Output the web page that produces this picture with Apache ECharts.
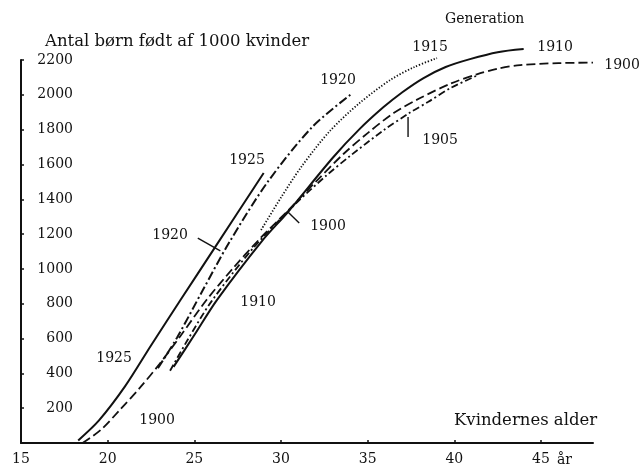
<!DOCTYPE html>
<html>
<head>
<meta charset="utf-8">
<script src="https://cdn.jsdelivr.net/npm/echarts@6/dist/echarts.min.js"></script>
<style>html,body{margin:0;padding:0;background:#fff}#c{width:640px;height:471px}</style>
</head>
<body>
<div id="c"></div>
<script>
// Data: [age, children per 1000 women]
const gen1925 = [[18.3,15],[19.5,130],[21.0,325],[22.5,560],[24.2,821],[26.2,1125],[29.0,1551]];
const gen1920 = [[22.9,430],[24.0,605],[25.5,880],[27.0,1150],[29.2,1495],[31.8,1815],[34.0,2000]];
const gen1915 = [[28.85,1223],[30.0,1410],[31.2,1590],[32.8,1790],[34.5,1950],[36.3,2085],[37.7,2160],[39.0,2211]];
const gen1910 = [[23.8,437],[25.0,620],[26.3,821],[28.9,1160],[30.4,1327],[33.0,1640],[34.5,1800],[35.9,1928],[37.0,2015],[38.2,2095],[39.5,2160],[40.9,2205],[42.5,2245],[44.0,2263]];
const gen1905 = [[23.6,415],[24.6,590],[26.0,815],[28.4,1120],[30.8,1370],[32.6,1535],[34.0,1650],[35.9,1795],[37.4,1895],[38.5,1960],[39.8,2040],[41.3,2110]];
const gen1900 = [[18.55,0],[19.6,75],[20.7,190],[21.9,322],[23.0,455],[24.2,615],[25.7,821],[27.2,1000],[28.7,1165],[30.4,1335],[32.0,1500],[33.6,1660],[35.0,1780],[36.5,1895],[38.0,1980],[39.8,2065],[41.3,2118],[42.5,2150],[43.8,2171],[46.0,2182],[48.0,2185]];

// Pointer strokes from labels to curves
const pointer1920 = [[25.2,1177],[26.5,1103]];
const pointer1900 = [[30.4,1327],[31.05,1264]];
const pointer1905 = [[37.33,1873],[37.33,1758]];

// Curve labels: [age, value, text]
const curveLabels = [
  [20.37,488,'1925'],[22.85,132,'1900'],[28.68,810,'1910'],[23.6,1195,'1920'],
  [28.04,1626,'1925'],[32.71,1246,'1900'],[33.29,2085,'1920'],[38.6,2275,'1915'],
  [45.81,2275,'1910'],[49.68,2171,'1900'],[39.18,1740,'1905']
];

const xTicks = { min: 15, max: 48, interval: 5 };
const yTicks = { min: 0, max: 2200, interval: 200 };

const FONT = 'DejaVu Serif';
const INK = '#111';

function curve(name, data, type, width) {
  return { name, type: 'line', data, smooth: 0.3, showSymbol: false, silent: true, clip: false,
    lineStyle: { color: INK, width: width || 1.8, type } };
}
function pointer(data) {
  return { type: 'line', data, showSymbol: false, silent: true, clip: false, lineStyle: { color: INK, width: 1.4 } };
}

const chart = echarts.init(document.getElementById('c'), null, { renderer: 'canvas' });
chart.setOption({
  animation: false,
  backgroundColor: '#fff',
  title: [
    { text: 'Antal børn født af 1000 kvinder', left: 40, top: 28,
      textStyle: { fontFamily: FONT, fontSize: 16.5, fontWeight: 'normal', color: INK } },
    { text: 'Generation', left: 440, top: 7,
      textStyle: { fontFamily: FONT, fontSize: 14, fontWeight: 'normal', color: INK } },
    { text: 'Kvindernes alder', left: 449, top: 407,
      textStyle: { fontFamily: FONT, fontSize: 16.5, fontWeight: 'normal', color: INK } }
  ],
  grid: { left: 21, right: 47, top: 60, bottom: 28, containLabel: false },
  xAxis: {
    type: 'value', min: xTicks.min, max: xTicks.max, interval: xTicks.interval,
    name: 'år', nameLocation: 'end', nameGap: -36,
    nameTextStyle: { fontFamily: FONT, fontSize: 14, color: INK, verticalAlign: 'top', padding: [10, 0, 0, 0] },
    axisLine: { show: true, lineStyle: { color: INK, width: 2 } },
    axisTick: { show: true, inside: true, length: 3, lineStyle: { color: INK, width: 1.5 } },
    axisLabel: { showMaxLabel: false, margin: 9, fontFamily: FONT, fontSize: 14, color: INK },
    splitLine: { show: false }
  },
  yAxis: {
    type: 'value', min: yTicks.min, max: yTicks.max, interval: yTicks.interval,
    axisLine: { show: true, lineStyle: { color: INK, width: 2 } },
    axisTick: { show: true, inside: true, length: 3, lineStyle: { color: INK, width: 1.5 } },
    axisLabel: { inside: true, align: 'right', margin: 52, showMinLabel: false,
      formatter: v => String(v), fontFamily: FONT, fontSize: 14, color: INK },
    splitLine: { show: false }
  },
  series: [
    curve('1925', gen1925, 'solid', 2),
    curve('1920', gen1920, [9, 3, 2, 3], 2),
    curve('1915', gen1915, [1.3, 1.8], 1.8),
    curve('1910', gen1910, 'solid', 2),
    curve('1905', gen1905, [7, 3, 2, 3], 1.8),
    curve('1900', gen1900, [9, 4], 1.8),
    pointer(pointer1920), pointer(pointer1900), pointer(pointer1905),
    { type: 'scatter', data: curveLabels, symbolSize: 0.01, clip: false, silent: true,
      itemStyle: { color: INK, opacity: 1 },
      label: { show: true, position: 'inside', formatter: p => p.data[2],
        fontFamily: FONT, fontSize: 14, color: INK, textBorderWidth: 0, textBorderColor: 'transparent' } }
  ]
});
</script>
</body>
</html>
